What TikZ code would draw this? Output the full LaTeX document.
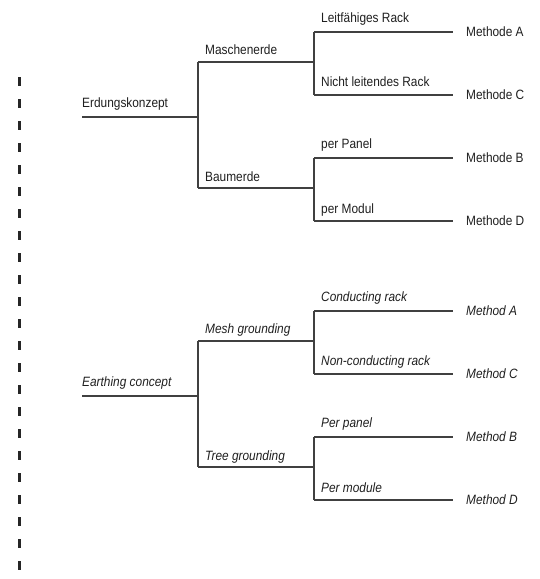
\documentclass[tikz,border=0pt]{standalone}
\usepackage{fontspec}
\setmainfont{Liberation Sans}[FakeStretch=0.88]
\usetikzlibrary{positioning}

\begin{document}
\begin{tikzpicture}[x=1pt,y=-1pt]
			\tikzset{branch/.style={draw=black!75,line width=1.5pt}}
			\tikzset{lbl/.style={anchor=base west,inner sep=0pt,text=black!88,font=\fontsize{13.5}{15}\selectfont}}
			\tikzset{en/.style={lbl,font=\fontsize{13.5}{15}\selectfont\itshape}}
			\useasboundingbox (0,0) rectangle (540,579);
			% Dashed divider
			\coordinate (DivTop) at (19,77);
			\coordinate (DivBot) at (19,579);
			\draw[black!85,line width=3pt,dash pattern=on 9pt off 13pt] (DivTop) -- (DivBot);
			% German tree: branch points
			\coordinate (DE) at (82,117);
			\coordinate (DEs) at (198,117);
			\coordinate (DEm) at (198,62);
			\coordinate (DEb) at (198,188);
			\coordinate (DEms) at (314,62);
			\coordinate (DEbs) at (314,188);
			\coordinate (DEma) at (314,32);
			\coordinate (DEmc) at (314,95);
			\coordinate (DEbb) at (314,158);
			\coordinate (DEbd) at (314,221);
			\coordinate (DEmaE) at (453,32);
			\coordinate (DEmcE) at (453,95);
			\coordinate (DEbbE) at (453,158);
			\coordinate (DEbdE) at (453,221);
			% German labels
			\node[lbl] (lErd) at ([shift={(0,-10)}]DE) {Erdungskonzept};
			\node[lbl] (lMasch) at ([shift={(7,-8)}]DEm) {Maschenerde};
			\node[lbl] (lBaum) at ([shift={(7,-7)}]DEb) {Baumerde};
			\node[lbl] (lLeit) at ([shift={(7,-10)}]DEma) {Leitfähiges Rack};
			\node[lbl] (lNicht) at ([shift={(7,-9)}]DEmc) {Nicht leitendes Rack};
			\node[lbl] (lPanel) at ([shift={(7,-10)}]DEbb) {per Panel};
			\node[lbl] (lModul) at ([shift={(7,-8)}]DEbd) {per Modul};
			\node[lbl] (mA) at ([shift={(13,4.5)}]DEmaE) {Methode A};
			\node[lbl] (mC) at ([shift={(13,4.5)}]DEmcE) {Methode C};
			\node[lbl] (mB) at ([shift={(13,4.5)}]DEbbE) {Methode B};
			\node[lbl] (mD) at ([shift={(13,4.5)}]DEbdE) {Methode D};
			% German branches
			\draw[branch] (DE) -- (DEs);
			\draw[branch] (DEm) -- (DEb);
			\draw[branch] (DEm) -- (DEms);
			\draw[branch] (DEb) -- (DEbs);
			\draw[branch] (DEma) -- (DEmc);
			\draw[branch] (DEbb) -- (DEbd);
			\draw[branch] (DEma) -- (DEmaE);
			\draw[branch] (DEmc) -- (DEmcE);
			\draw[branch] (DEbb) -- (DEbbE);
			\draw[branch] (DEbd) -- (DEbdE);
			% English tree: branch points
			\coordinate (EN) at (82,396);
			\coordinate (ENs) at (198,396);
			\coordinate (ENm) at (198,341);
			\coordinate (ENt) at (198,467);
			\coordinate (ENms) at (314,341);
			\coordinate (ENts) at (314,467);
			\coordinate (ENma) at (314,311);
			\coordinate (ENmc) at (314,374);
			\coordinate (ENtb) at (314,437);
			\coordinate (ENtd) at (314,500);
			\coordinate (ENmaE) at (453,311);
			\coordinate (ENmcE) at (453,374);
			\coordinate (ENtbE) at (453,437);
			\coordinate (ENtdE) at (453,500);
			% English labels
			\node[en] (lEarth) at ([shift={(0,-10)}]EN) {Earthing concept};
			\node[en] (lMesh) at ([shift={(7,-8)}]ENm) {Mesh grounding};
			\node[en] (lTree) at ([shift={(7,-7)}]ENt) {Tree grounding};
			\node[en] (lCond) at ([shift={(7,-10)}]ENma) {Conducting rack};
			\node[en] (lNon) at ([shift={(7,-9)}]ENmc) {Non-conducting rack};
			\node[en] (lPer) at ([shift={(7,-10)}]ENtb) {Per panel};
			\node[en] (lMod) at ([shift={(7,-8)}]ENtd) {Per module};
			\node[en] (eA) at ([shift={(13,4.5)}]ENmaE) {Method A};
			\node[en] (eC) at ([shift={(13,4.5)}]ENmcE) {Method C};
			\node[en] (eB) at ([shift={(13,4.5)}]ENtbE) {Method B};
			\node[en] (eD) at ([shift={(13,4.5)}]ENtdE) {Method D};
			% English branches
			\draw[branch] (EN) -- (ENs);
			\draw[branch] (ENm) -- (ENt);
			\draw[branch] (ENm) -- (ENms);
			\draw[branch] (ENt) -- (ENts);
			\draw[branch] (ENma) -- (ENmc);
			\draw[branch] (ENtb) -- (ENtd);
			\draw[branch] (ENma) -- (ENmaE);
			\draw[branch] (ENmc) -- (ENmcE);
			\draw[branch] (ENtb) -- (ENtbE);
			\draw[branch] (ENtd) -- (ENtdE);
\end{tikzpicture}
\end{document}
